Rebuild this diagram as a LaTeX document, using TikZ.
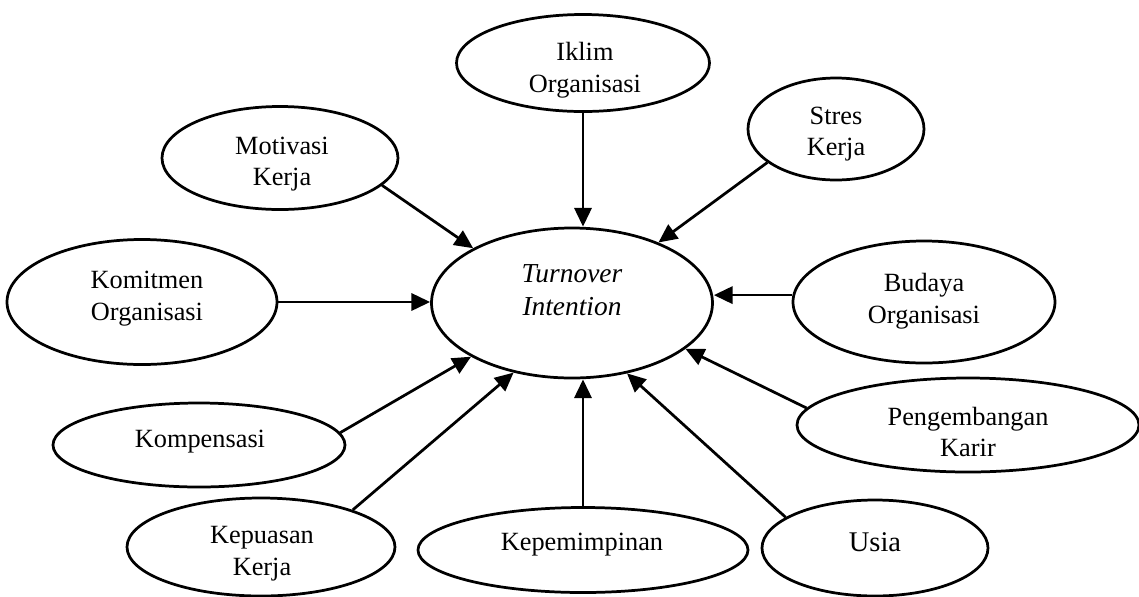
\documentclass[tikz,border=0pt]{standalone}
\usepackage{fontspec}
\setmainfont{Liberation Serif}
\usetikzlibrary{shapes.geometric}
\usetikzlibrary{arrows.meta}

\newdimen\pxu
\pxu=0.456pt

\tikzset{
  factor/.style={draw, ellipse, line width=1.25pt, inner sep=0pt},
  tag/.style={align=center, inner sep=0pt, font=\fontsize{12}{14.5}\selectfont},
  link/.style={line width=1.25pt, -{Triangle[length=8.5pt,width=7.8pt]}},
}

\begin{document}
\begin{tikzpicture}[x=\pxu, y=-\pxu]
\useasboundingbox (0,0) rectangle (1139,596);
% ellipses
\node[factor, minimum width=281\pxu, minimum height=150\pxu] (to)    at (572,303) {};
\node[factor, minimum width=253\pxu, minimum height=97\pxu]  (iklim) at (583,63)  {};
\node[factor, minimum width=176\pxu, minimum height=102\pxu] (stres) at (836,129) {};
\node[factor, minimum width=236\pxu, minimum height=103\pxu] (mot)   at (280,158) {};
\node[factor, minimum width=270\pxu, minimum height=125\pxu] (kom)   at (142,302) {};
\node[factor, minimum width=262\pxu, minimum height=122\pxu] (bud)   at (924,302) {};
\node[factor, minimum width=342\pxu, minimum height=94\pxu]  (peng)  at (968,425) {};
\node[factor, minimum width=292\pxu, minimum height=84\pxu]  (komp)  at (199,445) {};
\node[factor, minimum width=268\pxu, minimum height=98\pxu]  (kep)   at (261,547) {};
\node[factor, minimum width=330\pxu, minimum height=85\pxu]  (pim)   at (583,550) {};
\node[factor, minimum width=226\pxu, minimum height=96\pxu]  (usia)  at (875,548) {};
% texts
\node[tag, font=\fontsize{12.5}{15}\itshape] (to-t) at (572,290) {Turnover\\Intention};
\node[tag] (iklim-t) at (585,70)  {Iklim\\Organisasi};
\node[tag] (stres-t) at (836,134) {Stres\\Kerja};
\node[tag] (mot-t)   at (282,164) {Motivasi\\Kerja};
\node[tag] (kom-t)   at (147,299) {Komitmen\\Organisasi};
\node[tag] (bud-t)   at (924,301) {Budaya\\Organisasi};
\node[tag] (peng-t)  at (968,432) {Pengembangan\\Karir};
\node[tag] (komp-t)  at (200,442) {Kompensasi};
\node[tag] (kep-t)   at (262,554) {Kepuasan\\Kerja};
\node[tag] (pim-t)   at (582,545) {Kepemimpinan};
\node[tag, font=\fontsize{13}{15}\selectfont] (usia-t) at (875,542) {Usia};
% arrows
\draw[link] (iklim.south) -- (iklim.south |- to.north);
\draw[link] (stres.206.3) -- (to.35.3);
\draw[link] (mot.-15.1) -- (to.151.2);
\draw[link] (kom.east) -- (kom.east -| to.west);
\draw[link] (bud.177) -- (bud.177 -| to.east);
\draw[link] (peng.174.7) -- (to.-22);
\draw[link] (komp.5.3) -- (to.208.3);
\draw[link] (kep.22.5) -- (to.230.4);
\draw[link] (pim.north) -- (pim.north |- to.south);
\draw[link] (usia.161.9) -- (to.-52.5);
\end{tikzpicture}
\end{document}
